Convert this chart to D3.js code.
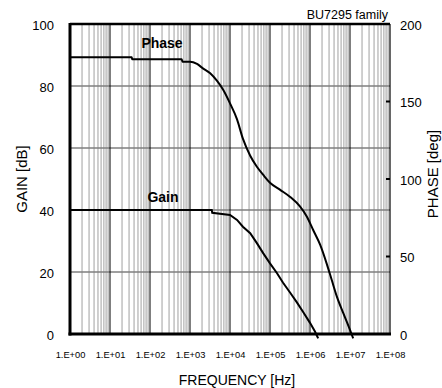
<!DOCTYPE html>
<html>
<head>
<meta charset="utf-8">
<script src="https://cdn.jsdelivr.net/npm/d3@7"></script>
<style>
  html, body { margin: 0; padding: 0; background: #fff; }
  svg { display: block; font-family: "Liberation Sans", Arial, sans-serif; }
</style>
</head>
<body>
<svg id="chart" width="442" height="388"></svg>
<script>
// Open-loop gain / phase of the BU7295 family
const freqTicks = [1e0, 1e1, 1e2, 1e3, 1e4, 1e5, 1e6, 1e7, 1e8];
const freqTickLabels = ["1.E+00", "1.E+01", "1.E+02", "1.E+03", "1.E+04", "1.E+05", "1.E+06", "1.E+07", "1.E+08"];
const gainTicks = [0, 20, 40, 60, 80, 100];
const phaseTicks = [0, 50, 100, 150, 200];

const gainFreq = [1, 3500, 3600, 1.0e4, 1.5e4, 2.1e4, 3.2e4, 4.7e4, 6.8e4, 1.0e5, 1.5e5, 2.1e5, 3.2e5, 4.7e5, 6.8e5, 1.0e6, 1.33e6, 1.6e6];
const gainDb   = [40, 40, 39.1, 38.4, 36.8, 34.6, 32.5, 29.3, 26.0, 22.8, 19.6, 16.6, 13.3, 10.2, 7.0, 3.6, 0.8, -1.4];

const phaseFreq = [1, 35, 36, 620, 650, 1000, 1500, 2100, 3200, 4700, 6800, 1.0e4, 1.5e4, 2.1e4, 3.2e4, 4.7e4, 6.8e4, 1.0e5, 1.8e5, 3.2e5, 5.6e5, 8.3e5, 1.2e6, 1.8e6, 2.6e6, 3.5e6, 4.7e6, 6.8e6, 1.0e7, 1.2e7];
const phaseDeg  = [178.5, 178.5, 177.2, 177.2, 175.7, 175.7, 174.2, 171.4, 168.2, 163.4, 157.4, 148.8, 138.5, 126.0, 115.0, 107.9, 102.6, 97.6, 93.0, 88.4, 82.3, 75.8, 67.1, 57.5, 45.6, 34.8, 24.1, 13.4, 2.6, -2.8];

const svg = d3.select("#chart");
const L = 70, R = 390, T = 24, B = 334;

const x = d3.scaleLog().domain([1, 1e8]).range([L, R]);
const yGain = d3.scaleLinear().domain([0, 100]).range([B, T]);
const yPhase = d3.scaleLinear().domain([0, 200]).range([B, T]);

// minor vertical grid (2..9 within each decade)
const minor = [];
for (let d = 0; d < 8; d++) for (let k = 2; k <= 9; k++) minor.push(k * Math.pow(10, d));
svg.append("g").selectAll("line").data(minor).join("line")
  .attr("x1", d => x(d)).attr("x2", d => x(d))
  .attr("y1", T).attr("y2", B)
  .attr("stroke", "#c4c4c4").attr("stroke-width", 1.6);

// horizontal grid
svg.append("g").selectAll("line").data(gainTicks.filter(v => v > 0 && v < 100)).join("line")
  .attr("x1", L).attr("x2", R)
  .attr("y1", d => yGain(d)).attr("y2", d => yGain(d))
  .attr("stroke", "#7f7f7f").attr("stroke-width", 1.5);

// decade lines
svg.append("g").selectAll("line").data(freqTicks.slice(1, -1)).join("line")
  .attr("x1", d => x(d)).attr("x2", d => x(d))
  .attr("y1", T).attr("y2", B)
  .attr("stroke", "#000").attr("stroke-width", 1);

// frame
svg.append("line").attr("x1", L).attr("x2", R).attr("y1", T).attr("y2", T).attr("stroke", "#000").attr("stroke-width", 2.5);
svg.append("line").attr("x1", R).attr("x2", R).attr("y1", T).attr("y2", B).attr("stroke", "#000").attr("stroke-width", 1.2);

// right-axis ticks
svg.append("g").selectAll("line").data(phaseTicks.filter(v => v > 0 && v < 200)).join("line")
  .attr("x1", R - 4).attr("x2", R)
  .attr("y1", d => yPhase(d)).attr("y2", d => yPhase(d))
  .attr("stroke", "#000").attr("stroke-width", 2);

// curves
const line = d3.line().x(d => x(d[0])).y(d => d[1]).curve(d3.curveMonotoneX);
svg.append("path")
  .attr("d", d3.line().x(d => x(d[0])).y(d => d[1])(gainFreq.map((f, i) => [f, yGain(gainDb[i])])))
  .attr("fill", "none").attr("stroke", "#000").attr("stroke-width", 2);
svg.append("path")
  .attr("d", line(phaseFreq.map((f, i) => [f, yPhase(phaseDeg[i])])))
  .attr("fill", "none").attr("stroke", "#000").attr("stroke-width", 2);

svg.append("line").attr("x1", L).attr("x2", L).attr("y1", T - 1).attr("y2", B + 1.5).attr("stroke", "#000").attr("stroke-width", 3);
svg.append("line").attr("x1", L - 1.5).attr("x2", R + 1).attr("y1", B).attr("y2", B).attr("stroke", "#000").attr("stroke-width", 3);

// axis labels
const gAxisL = svg.append("g").attr("transform", `translate(${L},0)`)
  .call(d3.axisLeft(yGain).tickValues(gainTicks).tickSize(0).tickPadding(16));
gAxisL.select(".domain").remove();
gAxisL.selectAll("text").attr("font-size", 13).attr("font-family", "Liberation Sans, Arial, sans-serif").attr("fill", "#000").attr("dy", "0.4em");

const gAxisR = svg.append("g").attr("transform", `translate(${R},0)`)
  .call(d3.axisRight(yPhase).tickValues(phaseTicks).tickSize(0).tickPadding(10));
gAxisR.select(".domain").remove();
gAxisR.selectAll("text").attr("font-size", 13).attr("font-family", "Liberation Sans, Arial, sans-serif").attr("fill", "#000").attr("dy", "0.4em");

const gAxisB = svg.append("g").attr("transform", `translate(0,${B})`)
  .call(d3.axisBottom(x).tickValues(freqTicks).tickFormat((d, i) => freqTickLabels[i]).tickSize(0).tickPadding(17));
gAxisB.select(".domain").remove();
gAxisB.selectAll("text").attr("font-size", 9.3).attr("font-family", "Liberation Sans, Arial, sans-serif").attr("fill", "#000");

// titles
svg.append("text").attr("x", 237).attr("y", 385).attr("text-anchor", "middle")
  .attr("font-size", 14).text("FREQUENCY [Hz]");
svg.append("text").attr("transform", "translate(27,179) rotate(-90)").attr("text-anchor", "middle")
  .attr("font-size", 15).text("GAIN [dB]");
svg.append("text").attr("transform", "translate(438,174) rotate(-90)").attr("text-anchor", "middle")
  .attr("font-size", 15).text("PHASE [deg]");
svg.append("text").attr("x", 388).attr("y", 19).attr("text-anchor", "end")
  .attr("font-size", 12.5).text("BU7295 family");

// series labels
svg.append("text").attr("x", 162).attr("y", 48).attr("text-anchor", "middle")
  .attr("font-size", 14).attr("font-weight", "bold").text("Phase");
svg.append("text").attr("x", 163).attr("y", 202).attr("text-anchor", "middle")
  .attr("font-size", 14).attr("font-weight", "bold").text("Gain");
</script>
</body>
</html>
